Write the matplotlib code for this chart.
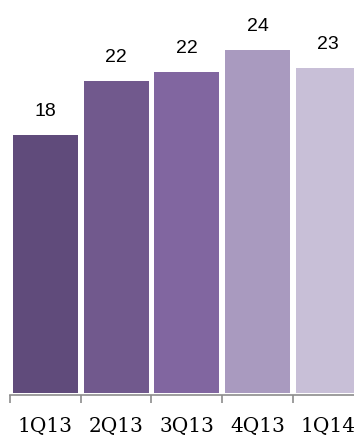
import matplotlib
matplotlib.use("Agg")
import matplotlib.pyplot as plt

# Quarterly values
quarters = ["1Q13", "2Q13", "3Q13", "4Q13", "1Q14"]
values = [18.0, 21.8, 22.4, 24.0, 22.7]
colors = ["#604b7b", "#71598d", "#8166a0", "#a99abf", "#c8bfd7"]

W, H = 354, 439
fig = plt.figure(figsize=(W / 100, H / 100), dpi=100)

# axes in pixel coordinates: left edge at 10px, category width ~70.7px
left, bottom = 10, 439 - 396
cat_w = 70.7
width = cat_w * len(quarters)
y_max = 26
px_per_unit = 14.39
height = y_max * px_per_unit
ax = fig.add_axes([left / W, bottom / H, width / W, height / H])

x = list(range(len(quarters)))
bars = ax.bar(x, values, width=0.92, color=colors, zorder=2)

ax.set_xlim(-0.5, len(quarters) - 0.5)
ax.set_ylim(-0.12, y_max)

for xi, v in zip(x, values):
    ax.annotate(f"{v:.0f}", (xi, v), xytext=(0, 11.5), textcoords="offset points",
                ha="center", va="bottom", fontsize=14, family="Liberation Sans",
                color="#000000")

for s in ["top", "right", "left"]:
    ax.spines[s].set_visible(False)
ax.spines["bottom"].set_color("#8c8c8c")
ax.spines["bottom"].set_linewidth(1.2)
ax.set_yticks([])

# boundary ticks without labels, category labels on minor ticks
ax.set_xticks([i - 0.5 for i in range(len(quarters) + 1)])
ax.set_xticklabels([])
ax.tick_params(axis="x", which="major", length=6, width=1.2, color="#8c8c8c")
ax.set_xticks(x, minor=True)
ax.set_xticklabels(quarters, minor=True, fontsize=14.5, family="DejaVu Serif")
ax.tick_params(axis="x", which="minor", length=0, pad=15)

fig.savefig("out.png", dpi=100)
